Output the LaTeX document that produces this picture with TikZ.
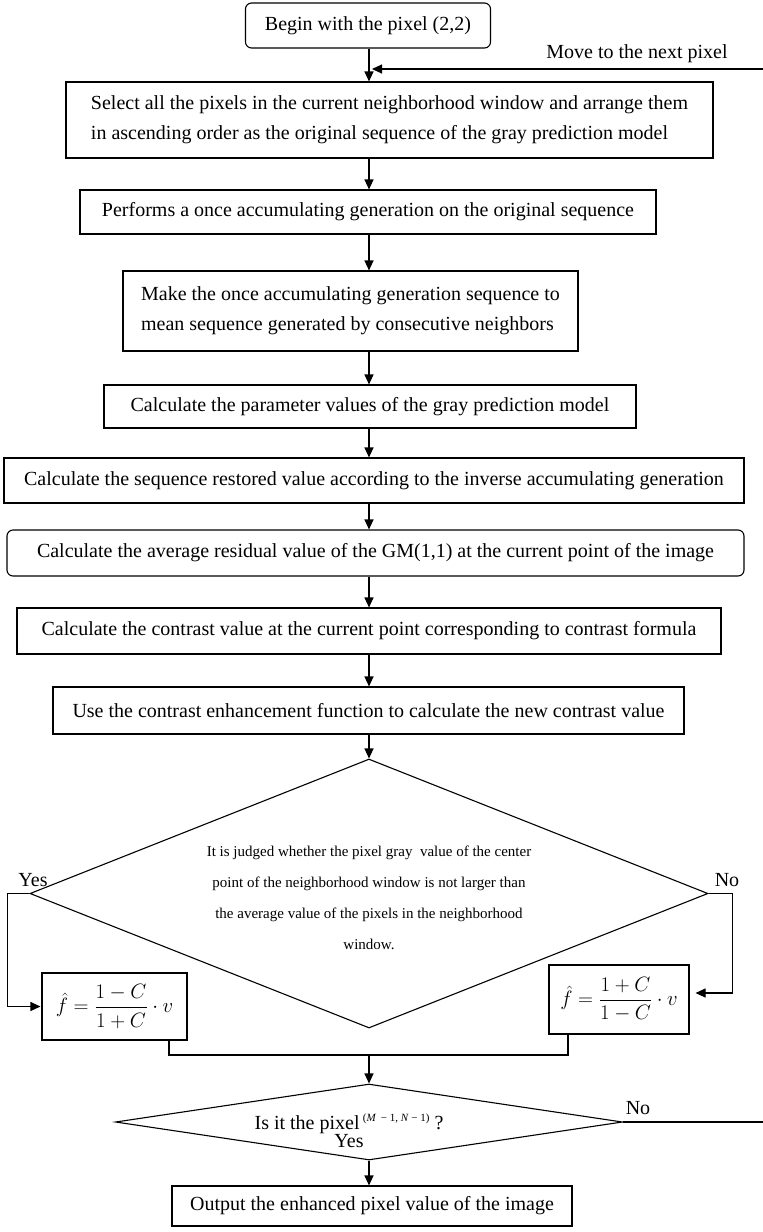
\documentclass[tikz,border=0pt]{standalone}
\usepackage{fontspec}
\setmainfont{Liberation Serif}
\usetikzlibrary{arrows.meta,shapes.geometric,calc}
\begin{document}
\begin{tikzpicture}[x=1pt,y=-1pt,
  line width=1.1pt,
  every node/.style={font=\fontsize{20}{30}\selectfont},
  box/.style={draw,rectangle,inner sep=0pt,minimum width=#1},
  rbox/.style={draw,rectangle,rounded corners=6pt,inner sep=0pt,minimum width=#1},
  arr/.style={-{Triangle[length=10pt,width=9pt]}},
  dia/.style={draw,diamond,inner sep=0pt,minimum width=#1},
  lbl/.style={inner sep=0pt}
]
\useasboundingbox (0,0) rectangle (763,1232);
\coordinate (col) at (369,0);

\node[rbox=245, minimum height=45] (start) at (368,25.5) {Begin with the pixel (2,2)};
\node[box=647, minimum height=76, align=left] (b1) at (389.5,120)
  {Select all the pixels in the current neighborhood window and arrange them\\in ascending order as the original sequence of the gray prediction model};
\node[box=576, minimum height=44] (b2) at (368,212) {Performs a once accumulating generation on the original sequence};
\node[box=455, minimum height=80, align=left] (b3) at (350.5,311)
  {Make the once accumulating generation sequence to\\mean sequence generated by consecutive neighbors};
\node[box=532, minimum height=43] (b4) at (370,406.5) {Calculate the parameter values of the gray prediction model};
\node[box=740, minimum height=45] (b5) at (374,480.5) {Calculate the sequence restored value according to the inverse accumulating generation};
\node[rbox=737, minimum height=46] (b6) at (375.5,553) {Calculate the average residual value of the GM(1,1) at the current point of the image};
\node[box=704, minimum height=46] (b7) at (369,631) {Calculate the contrast value at the current point corresponding to contrast formula};
\node[box=631, minimum height=47] (b8) at (368.5,710.5) {Use the contrast enhancement function to calculate the new contrast value};

\node[dia=678, minimum height=269] (d1) at (369,893.5) {};
\node[align=center, font=\fontsize{15}{31}\selectfont] (d1t) at (369,898)
  {It is judged whether the pixel gray~ value of the center\\point of the neighborhood window is not larger than\\the average value of the pixels in the neighborhood\\window.};

\node[box=145, minimum height=67] (lb) at (114.5,1006.5) {$\displaystyle \hat{f}=\frac{1-C}{1+C}\cdot v$};
\node[box=140, minimum height=69] (rb) at (619,999.5) {$\displaystyle \hat{f}=\frac{1+C}{1-C}\cdot v$};

\node[dia=507, minimum height=76] (d2) at (369,1122) {};
\node[lbl] (d2t) at (349,1124) {Is it the pixel\,\raisebox{8pt}{\fontsize{11}{13}\selectfont(\textit{M}\, − 1, \textit{N} − 1)}\ ?};

\node[box=400, minimum height=40] (out) at (372,1206) {Output the enhanced pixel value of the image};

% labels
\node[lbl] (mvl) at (637,54) {Move to the next pixel};
\node[lbl] (y1) at (33,880) {Yes};
\node[lbl] (n1) at (727,880) {No};
\node[lbl] (y2) at (349,1141) {Yes};
\node[lbl] (n2) at (638,1108) {No};

% connectors
\coordinate (mvs) at (763,69);
\coordinate (mve) at (372,69);
\draw[arr] (start.south -| col) -- (b1.north -| col);
\draw[arr] (mvs) -- (mve);
\draw[arr] (b1.south -| col) -- (b2.north -| col);
\draw[arr] (b2.south -| col) -- (b3.north -| col);
\draw[arr] (b3.south -| col) -- (b4.north -| col);
\draw[arr] (b4.south -| col) -- (b5.north -| col);
\draw[arr] (b5.south -| col) -- (b6.north -| col);
\draw[arr] (b6.south -| col) -- (b7.north -| col);
\draw[arr] (b7.south -| col) -- (b8.north -| col);
\draw[arr] (b8.south -| col) -- (d1.north);

\draw[arr] (d1.west) -- ++(-22,0) |- ([xshift=-1pt]lb.west);
\draw[arr] (d1.east) -- ++(24,0) |- ([xshift=6pt,yshift=6.5pt]rb.east);

\coordinate (mL) at (169,1055);
\coordinate (mR) at (568,1055);
\coordinate (mC) at (369,1055);
\draw (mL |- lb.south) -- (mL) -- (mR) -- (mR |- rb.south);
\draw[arr] (mC) -- (d2.north);

\coordinate (noend) at (763,1122);
\draw (d2.east) -- (noend);
\draw[arr] (d2.south) -- (out.north -| d2.south);
\end{tikzpicture}
\end{document}
